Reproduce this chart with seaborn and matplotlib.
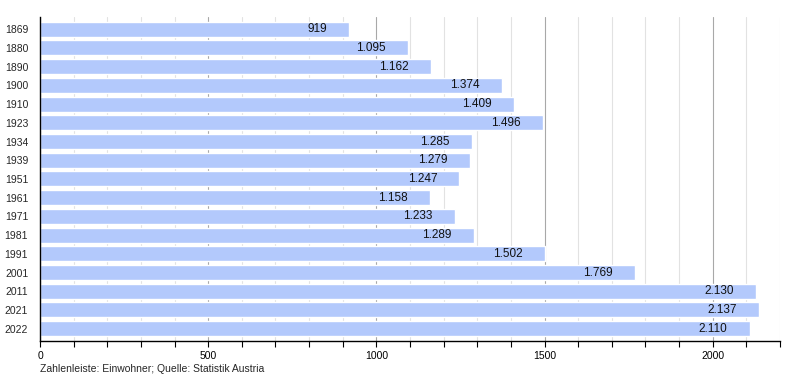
import matplotlib
matplotlib.use('Agg')
import matplotlib.pyplot as plt
import seaborn as sns
import pandas as pd
from matplotlib.ticker import MultipleLocator

years = ['1869', '1880', '1890', '1900', '1910', '1923', '1934', '1939', '1951',
         '1961', '1971', '1981', '1991', '2001', '2011', '2021', '2022']
population = [919, 1095, 1162, 1374, 1409, 1496, 1285, 1279, 1247,
              1158, 1233, 1289, 1502, 1769, 2130, 2137, 2110]

df = pd.DataFrame({'Jahr': years, 'Einwohner': population})

sns.set_style('white')
plt.rcParams['font.family'] = ['Liberation Sans', 'DejaVu Sans']

fig = plt.figure(figsize=(8, 3.8), dpi=100)
ax = fig.add_axes([0.05, 0.103, 0.925, 0.852])

sns.barplot(data=df, x='Einwohner', y='Jahr', orient='h', color='#b3c9fc',
            saturation=1, width=0.8, ax=ax, zorder=2)

ax.set_xlim(0, 2200)
ax.set_ylim(len(years) - 0.35, -0.65)
ax.xaxis.set_major_locator(MultipleLocator(500))
ax.xaxis.set_minor_locator(MultipleLocator(100))
ax.grid(True, axis='x', which='minor', color='#e2e2e2', linewidth=0.8, zorder=0)
ax.grid(True, axis='x', which='major', color='#a8a8a8', linewidth=0.8, zorder=0)
ax.set_axisbelow(True)

for i, v in enumerate(population):
    lbl = f'{v:,}'.replace(',', '.')
    ax.annotate(lbl, (v, i), xytext=(-16, 0), textcoords='offset points',
                ha='right', va='center', fontsize=8.5, color='#111111')

for s in ['top', 'right']:
    ax.spines[s].set_visible(False)
ax.spines['left'].set_color('black')
ax.spines['bottom'].set_color('black')
ax.spines['left'].set_linewidth(1)
ax.spines['bottom'].set_linewidth(1)

ax.tick_params(axis='x', which='both', direction='out', bottom=True, length=4,
               width=0.8, colors='black', labelsize=7.5, pad=3)
ax.tick_params(axis='y', which='both', left=False, labelsize=7.5, pad=5)
ax.set_xlabel('')
ax.set_ylabel('')

fig.text(0.05, 0.03, 'Zahlenleiste: Einwohner; Quelle: Statistik Austria',
         fontsize=7.5, ha='left', va='center')

fig.savefig('out.png', dpi=100)
